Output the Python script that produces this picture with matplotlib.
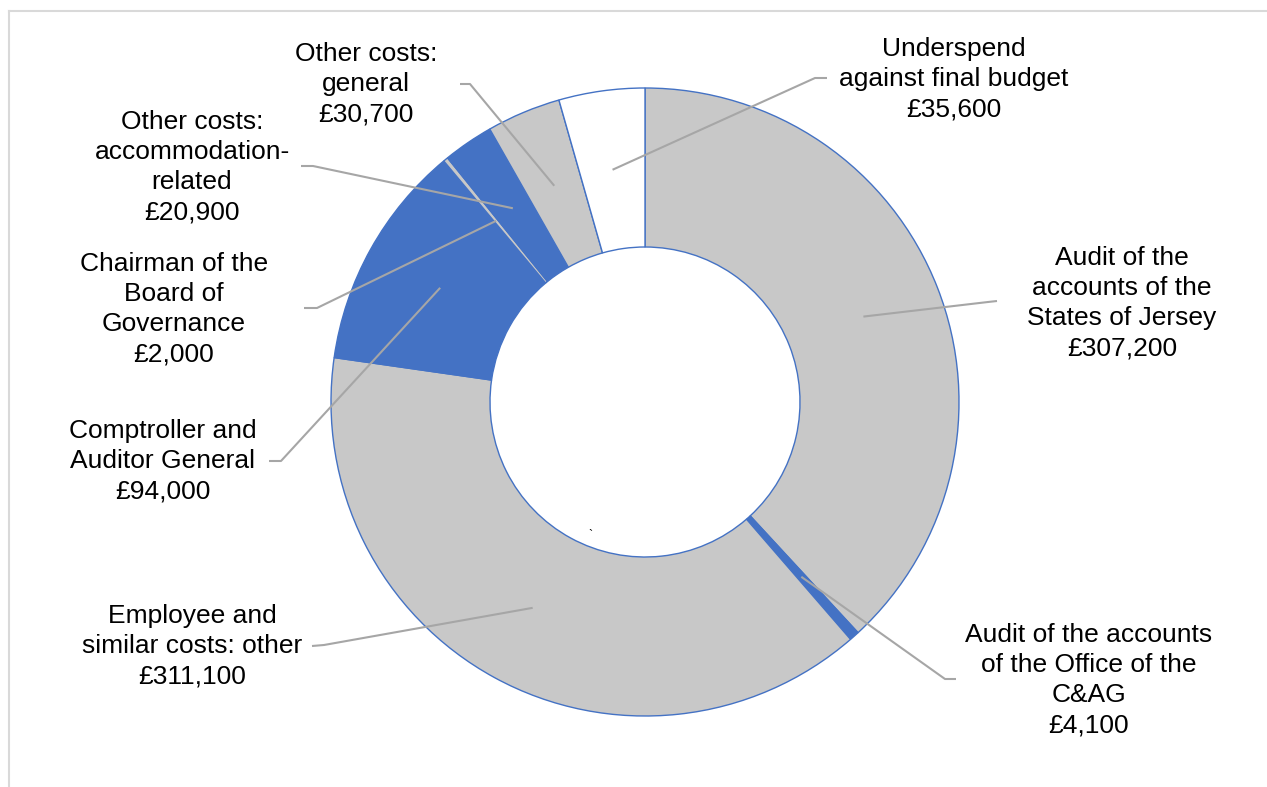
import numpy as np
import matplotlib
matplotlib.use("Agg")
import matplotlib.pyplot as plt
from matplotlib.lines import Line2D

plt.rcParams['font.family'] = ['Liberation Sans', 'DejaVu Sans']

# ---- data ----
categories = [
    "Audit of the\naccounts of the\nStates of Jersey",
    "Audit of the accounts\nof the Office of the\nC&AG",
    "Employee and\nsimilar costs: other",
    "Comptroller and\nAuditor General",
    "Chairman of the\nBoard of\nGovernance",
    "Other costs:\naccommodation-\nrelated",
    "Other costs:\ngeneral",
    "Underspend\nagainst final budget",
]
values = [307200, 4100, 311100, 94000, 2000, 20900, 30700, 35600]
colors = ["#C8C8C8", "#4472C4", "#C8C8C8", "#4472C4", "#C8C8C8", "#4472C4", "#C8C8C8", "#FFFFFF"]

# ---- layout (pixel coordinates, y from top) ----
W, H = 1267, 787
CX, CY = 645, 402
R_OUT, R_IN = 314, 155
# label centre
label_pos = [(1122, 303), (1089, 680), (192, 646), (163, 461),
             (174, 309), (192, 167), (366, 84), (954, 79)]
# leader: (start at text, elbow)
leader_pts = [((997, 301), (988, 302)), ((956, 679), (945, 679)),
              ((312, 646), (324, 645)), ((269, 461), (281, 461)),
              ((304, 308), (317, 308)), ((301, 166), (313, 166)),
              ((460, 84), (470, 84)), ((827, 78), (815, 78))]

def py(y):
    return H - y

fig = plt.figure(figsize=(W / 100, H / 100), dpi=100)
ax = fig.add_axes([0, 0, 1, 1])

wedges, _ = ax.pie(values, colors=colors, startangle=90, counterclock=False,
                   center=(CX, py(CY)), radius=R_OUT,
                   wedgeprops=dict(width=R_OUT - R_IN, edgecolor="#4472C4", linewidth=1.0))
ax.set_xlim(0, W)
ax.set_ylim(0, H)
ax.set_aspect('equal')
ax.axis('off')

r_mid = (R_OUT + R_IN) / 2
for w, lab, val, (tx, ty), (p0, p1) in zip(wedges, categories, values, label_pos, leader_pts):
    ang = np.deg2rad((w.theta1 + w.theta2) / 2)
    ex = CX + r_mid * np.cos(ang)
    ey = py(CY) + r_mid * np.sin(ang)
    ax.plot([p0[0], p1[0], ex], [py(p0[1]), py(p1[1]), ey], color="#A6A6A6",
            lw=1.5, solid_capstyle='butt', zorder=5)
    ax.text(tx, py(ty), f"{lab}\n£{val:,}", ha='center', va='center',
            fontsize=19, linespacing=1.32, color='black')

# tiny stray mark seen in the original
ax.text(590, py(536), "`", fontsize=9, ha='center', va='center', color='black')

# frame border (top & left visible)
fig.add_artist(Line2D([9 / W, 1], [1 - 11 / H, 1 - 11 / H], transform=fig.transFigure,
                      color="#D9D9D9", lw=1.5))
fig.add_artist(Line2D([9 / W, 9 / W], [0, 1 - 11 / H], transform=fig.transFigure,
                      color="#D9D9D9", lw=1.5))

fig.savefig("out.png", dpi=100)
